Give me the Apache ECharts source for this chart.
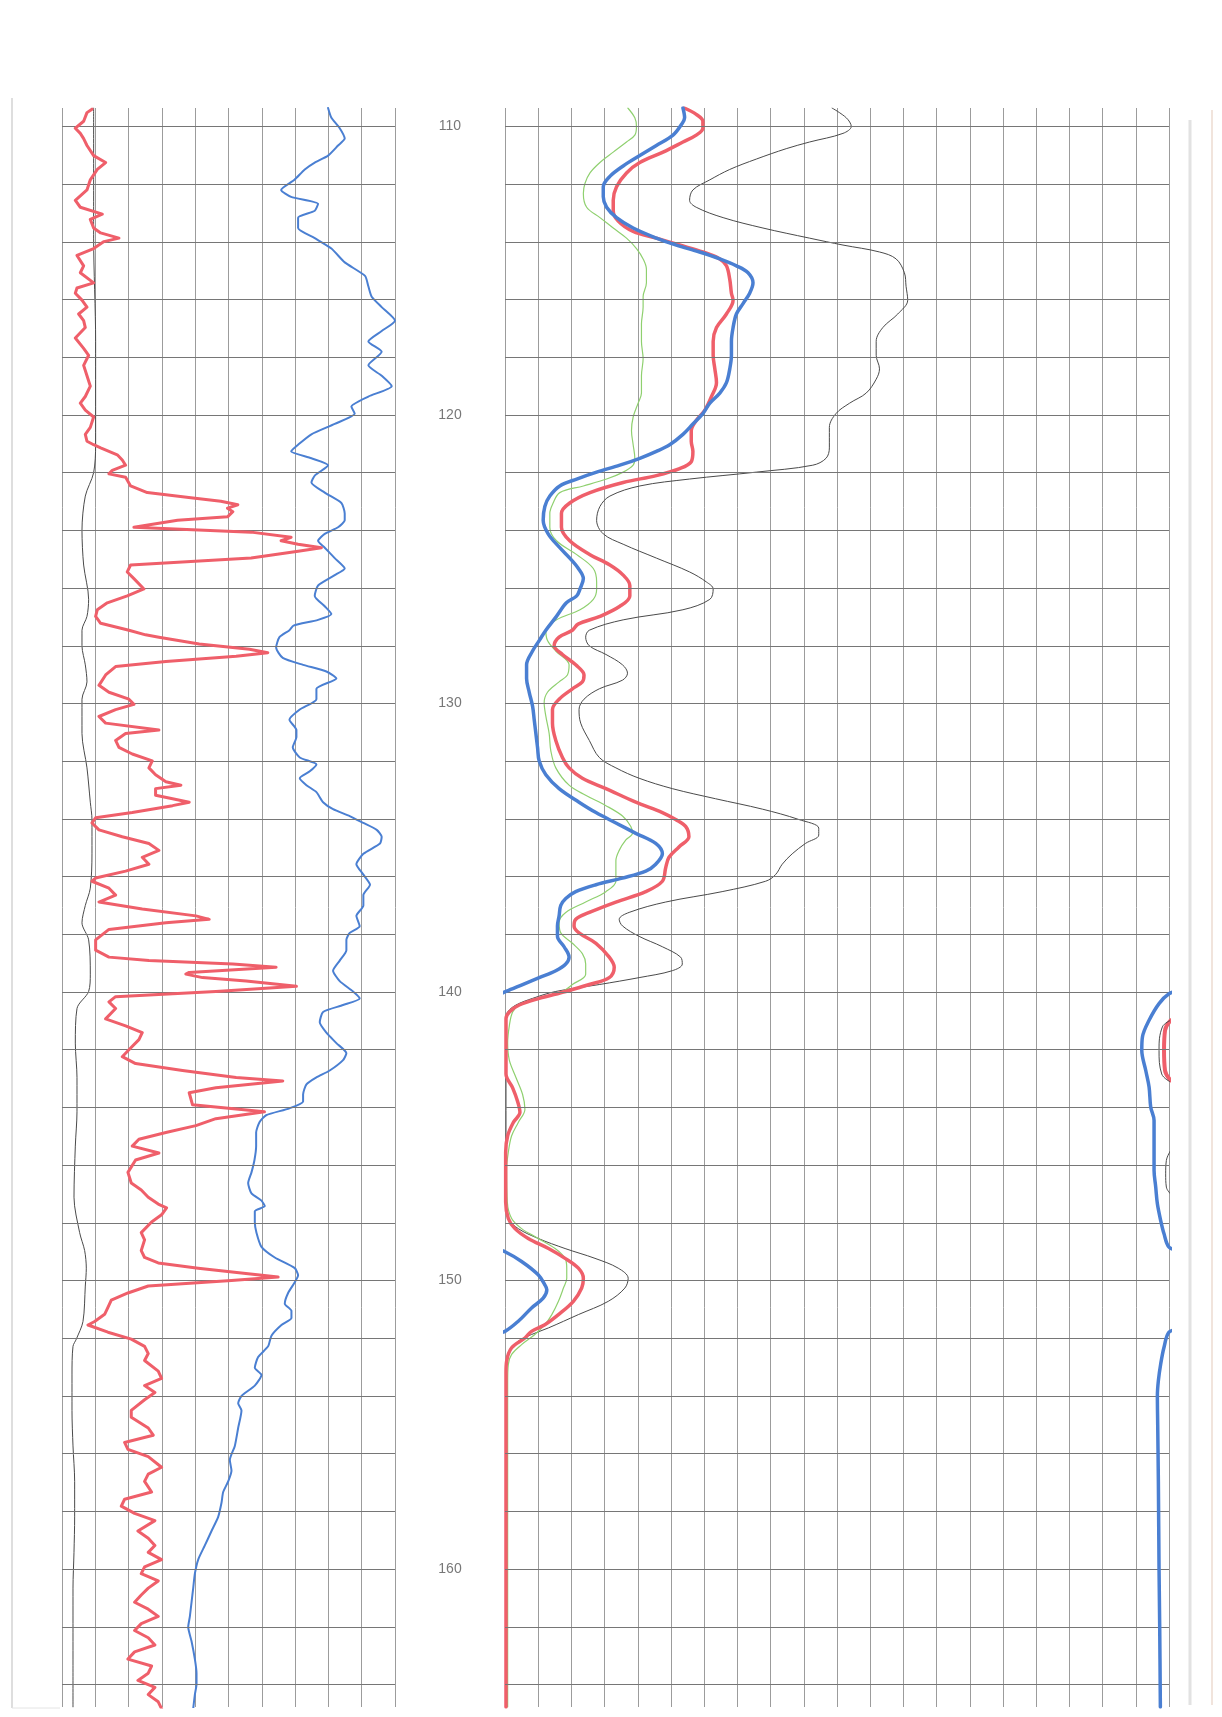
<!DOCTYPE html>
<html><head><meta charset="utf-8">
<script src="https://cdn.jsdelivr.net/npm/echarts@6/dist/echarts.min.js"></script>
<style>html,body{margin:0;padding:0;background:#fff}#c{width:1222px;height:1717px}</style>
</head><body><div id="c"></div>
<script>
const depthMin = 109.36, depthMax = 164.78;
const depthLabels = [110,120,130,140,150,160];
const gridDepths = [110,112,114,116,118,120,122,124,126,128,130,132,134,136,138,140,142,144,146,148,150,152,154,156,158,160,162,164];

// [depth, value] pairs, left track (0-10 divisions)
const leftBlack = [[109.36,0.95],[113.87,0.95],[117.45,1.01],[121.03,1.01],[122.00,0.95],[122.81,0.70],[124.00,0.60],[125.20,0.65],[126.39,0.80],[126.98,0.75],[127.46,0.60],[128.00,0.60],[128.66,0.70],[129.25,0.75],[129.85,0.60],[131.04,0.60],[132.23,0.75],[133.42,0.85],[134.02,0.90],[135.21,0.90],[136.40,0.85],[137.00,0.70],[137.60,0.60],[138.19,0.80],[139.38,0.85],[139.98,0.80],[140.57,0.45],[141.77,0.40],[142.96,0.45],[144.15,0.45],[145.34,0.40],[147.11,0.36],[148.34,0.53],[148.96,0.68],[149.57,0.73],[150.19,0.70],[151.42,0.63],[152.03,0.43],[152.28,0.33],[153.27,0.30],[154.50,0.30],[155.73,0.33],[156.96,0.38],[158.19,0.38],[159.42,0.36],[160.66,0.33],[161.89,0.33],[163.12,0.33],[164.78,0.33]];

const leftRed = [[109.40,0.90],[109.52,0.75],[109.82,0.65],[110.06,0.40],[110.24,0.55],[110.42,0.65],[110.66,0.75],[111.01,0.95],[111.25,1.31],[111.49,1.06],[111.85,0.85],[112.20,0.75],[112.56,0.40],[112.80,0.55],[113.04,1.21],[113.22,0.85],[113.52,0.95],[113.69,1.16],[113.87,1.71],[113.99,1.26],[114.23,0.95],[114.47,0.45],[114.83,0.65],[115.07,0.55],[115.42,0.95],[115.60,0.45],[115.78,0.40],[116.02,0.60],[116.26,0.75],[116.50,0.50],[116.73,0.65],[116.97,0.70],[117.33,0.40],[117.69,0.65],[117.93,0.80],[118.28,0.65],[118.64,0.75],[119.00,0.85],[119.36,0.70],[119.59,0.55],[119.83,0.70],[120.07,0.95],[120.43,0.85],[120.67,0.70],[120.91,0.75],[121.03,0.95],[121.14,1.16],[121.38,1.66],[121.56,1.81],[121.74,1.91],[121.92,1.51],[122.04,1.41],[122.16,1.91],[122.46,2.06],[122.69,2.56],[122.87,3.87],[122.99,4.77],[123.11,5.28],[123.23,4.97],[123.35,5.13],[123.53,4.97],[123.65,3.47],[123.89,2.16],[123.95,2.11],[124.06,5.68],[124.24,6.88],[124.36,6.58],[124.48,7.09],[124.60,7.79],[124.72,7.09],[124.96,5.68],[125.20,2.06],[125.44,1.96],[125.67,2.16],[126.03,2.46],[126.27,1.96],[126.51,1.36],[126.75,1.06],[126.98,1.01],[127.22,1.16],[127.46,2.01],[127.62,2.51],[127.70,2.91],[127.94,4.12],[128.12,5.63],[128.24,6.18],[128.36,5.23],[128.54,3.12],[128.72,1.61],[129.01,1.31],[129.37,1.11],[129.61,1.41],[129.85,2.01],[130.03,2.16],[130.21,1.61],[130.45,1.11],[130.68,1.31],[130.92,2.91],[131.04,1.91],[131.28,1.61],[131.52,1.71],[131.75,2.11],[131.99,2.71],[132.23,2.61],[132.47,2.81],[132.71,3.12],[132.83,3.57],[132.95,2.81],[133.18,2.81],[133.30,3.32],[133.42,3.82],[133.54,3.32],[133.78,2.11],[133.96,1.01],[134.14,0.90],[134.38,1.11],[134.62,1.81],[134.85,2.61],[135.09,2.91],[135.33,2.41],[135.57,2.61],[135.81,1.91],[136.05,1.01],[136.16,0.90],[136.40,1.41],[136.64,1.61],[136.88,1.11],[137.12,2.41],[137.36,4.02],[137.48,4.42],[137.60,3.12],[137.83,1.41],[138.19,1.01],[138.55,1.01],[138.79,1.41],[138.91,2.61],[139.03,5.13],[139.14,6.43],[139.32,3.82],[139.38,3.72],[139.50,4.22],[139.62,5.53],[139.80,7.04],[139.98,4.62],[140.16,1.61],[140.34,1.41],[140.57,1.61],[140.93,1.31],[141.17,1.91],[141.41,2.41],[141.65,2.31],[142.00,2.01],[142.24,1.81],[142.48,2.21],[142.72,3.62],[142.96,5.23],[143.08,6.63],[143.32,4.62],[143.49,3.82],[143.91,3.92],[144.15,6.08],[144.39,4.62],[144.63,4.02],[144.87,3.12],[145.10,2.31],[145.34,2.11],[145.58,2.91],[145.82,2.21],[146.25,1.98],[146.62,2.08],[146.86,2.38],[147.11,2.59],[147.35,2.89],[147.48,3.14],[147.72,2.99],[147.97,2.69],[148.34,2.38],[148.59,2.48],[148.96,2.38],[149.20,2.48],[149.39,2.89],[149.57,4.09],[149.76,5.59],[149.88,6.49],[150.00,5.09],[150.19,2.59],[150.43,1.98],[150.68,1.48],[150.93,1.38],[151.17,1.28],[151.42,0.98],[151.54,0.78],[151.79,1.38],[152.03,2.08],[152.28,2.48],[152.53,2.59],[152.77,2.48],[153.14,2.89],[153.39,2.99],[153.64,2.48],[153.88,2.79],[154.13,2.48],[154.50,2.08],[154.74,2.08],[155.11,2.59],[155.36,2.74],[155.61,1.88],[155.85,1.98],[156.10,2.59],[156.47,2.99],[156.71,2.59],[156.96,2.48],[157.33,2.69],[157.58,1.88],[157.82,1.78],[158.07,2.18],[158.32,2.79],[158.68,2.28],[158.93,2.59],[159.18,2.79],[159.42,2.59],[159.67,2.99],[159.92,2.48],[160.16,2.38],[160.41,2.89],[160.66,2.59],[160.90,2.38],[161.15,2.18],[161.39,2.59],[161.64,2.89],[161.89,2.38],[162.13,2.18],[162.38,2.59],[162.63,2.79],[162.87,2.18],[163.12,1.98],[163.36,2.69],[163.61,2.59],[163.86,2.28],[164.10,2.79],[164.35,2.59],[164.60,2.89],[164.84,2.99]];

const leftBlue = [[109.36,7.99],[109.70,8.09],[110.06,8.34],[110.42,8.49],[110.66,8.29],[111.01,7.99],[111.25,7.59],[111.49,7.29],[111.85,6.98],[112.20,6.58],[112.44,6.88],[112.68,7.69],[112.92,7.59],[113.16,7.09],[113.52,7.09],[113.87,7.59],[114.23,8.09],[114.71,8.49],[115.18,9.10],[115.54,9.20],[115.90,9.30],[116.26,9.60],[116.73,10.0],[117.09,9.60],[117.45,9.20],[117.81,9.60],[118.28,9.20],[118.64,9.60],[119.00,9.90],[119.36,9.20],[119.71,8.69],[119.95,8.79],[120.31,8.19],[120.67,7.49],[121.03,7.09],[121.26,6.88],[121.50,7.49],[121.74,7.99],[122.10,7.59],[122.34,7.49],[122.69,7.89],[123.05,8.39],[123.41,8.49],[123.65,8.49],[123.89,8.29],[124.12,7.89],[124.36,7.69],[124.60,7.89],[124.96,8.19],[125.32,8.49],[125.55,8.19],[125.91,7.69],[126.27,7.59],[126.63,7.89],[126.90,8.09],[127.10,7.69],[127.30,6.95],[127.46,6.83],[127.70,6.53],[128.06,6.43],[128.42,6.63],[128.66,7.24],[128.89,7.94],[129.13,8.24],[129.49,7.64],[129.85,7.64],[130.21,7.14],[130.56,6.83],[130.92,7.04],[131.16,7.04],[131.52,6.93],[131.87,7.14],[132.11,7.64],[132.35,7.44],[132.59,7.14],[132.83,7.34],[133.07,7.64],[133.42,7.84],[133.66,8.14],[133.90,8.64],[134.14,9.05],[134.38,9.45],[134.62,9.60],[134.85,9.55],[135.21,9.05],[135.57,8.84],[135.93,9.05],[136.28,9.25],[136.64,9.05],[137.00,9.05],[137.36,8.84],[137.72,8.94],[137.95,8.64],[138.19,8.54],[138.55,8.54],[138.91,8.34],[139.26,8.14],[139.62,8.34],[139.98,8.74],[140.22,8.94],[140.45,8.44],[140.69,7.84],[141.05,7.74],[141.41,7.94],[141.77,8.24],[142.12,8.54],[142.36,8.44],[142.72,8.04],[142.96,7.64],[143.20,7.34],[143.55,7.24],[143.79,7.24],[144.03,6.83],[144.27,6.13],[144.51,5.93],[144.87,5.83],[145.34,5.83],[145.82,5.78],[146.25,5.69],[146.62,5.59],[146.98,5.69],[147.23,5.99],[147.42,6.09],[147.60,5.79],[147.97,5.79],[148.34,5.84],[148.83,5.99],[149.20,6.39],[149.57,6.99],[149.82,7.09],[150.06,6.99],[150.43,6.79],[150.80,6.69],[151.05,6.89],[151.30,6.89],[151.54,6.59],[151.91,6.29],[152.28,6.19],[152.65,5.89],[153.02,5.79],[153.27,5.99],[153.64,5.79],[154.00,5.39],[154.25,5.29],[154.50,5.39],[155.11,5.29],[155.73,5.19],[156.22,5.04],[156.59,5.09],[156.96,4.99],[157.33,4.84],[157.70,4.79],[158.19,4.69],[158.68,4.49],[159.18,4.29],[159.67,4.09],[160.16,3.99],[160.66,3.94],[161.15,3.89],[161.64,3.84],[162.01,3.79],[162.50,3.89],[163.12,3.99],[163.61,4.04],[163.98,4.04],[164.35,3.99],[164.84,3.94]];

// right track (0-20 divisions)
const rightBlack = [[109.36,9.85],[109.70,10.28],[110.00,10.43],[110.24,10.18],[110.54,9.17],[110.77,8.47],[111.13,7.57],[111.49,6.77],[111.85,6.17],[112.20,5.66],[112.56,5.56],[112.80,5.76],[113.16,6.57],[113.52,7.77],[113.87,9.17],[114.11,10.18],[114.35,11.28],[114.59,11.78],[115.07,12.03],[115.54,12.08],[116.02,12.13],[116.50,11.83],[116.97,11.38],[117.45,11.18],[117.93,11.18],[118.40,11.28],[118.76,11.18],[119.24,10.88],[119.59,10.38],[119.95,9.97],[120.43,9.77],[120.79,9.77],[121.14,9.77],[121.50,9.67],[121.74,9.27],[121.98,7.57],[122.22,5.56],[122.46,4.06],[122.81,3.16],[123.17,2.86],[123.65,2.76],[124.12,2.96],[124.48,3.56],[124.96,4.56],[125.44,5.56],[125.79,6.07],[126.03,6.27],[126.39,6.17],[126.75,5.36],[127.10,3.56],[127.46,2.54],[127.70,2.43],[128.00,2.54],[128.30,3.04],[128.66,3.54],[128.95,3.69],[129.19,3.54],[129.49,2.84],[129.85,2.38],[130.21,2.23],[130.68,2.28],[131.28,2.54],[131.87,2.84],[132.23,3.34],[132.59,4.04],[132.95,5.04],[133.30,6.34],[133.66,7.75],[134.02,8.85],[134.32,9.45],[134.56,9.45],[134.85,9.05],[135.21,8.65],[135.57,8.35],[135.93,8.15],[136.16,7.85],[136.52,6.54],[136.88,4.84],[137.24,3.74],[137.48,3.44],[137.71,3.54],[138.07,4.04],[138.43,4.74],[138.79,5.29],[139.03,5.34],[139.26,5.04],[139.50,4.04],[139.74,2.84],[139.98,1.53],[140.22,0.83],[140.45,0.33],[140.69,0.08],[140.93,0.03],[147.28,0.03],[147.85,0.10],[148.20,0.40],[148.54,1.00],[148.89,1.81],[149.23,2.71],[149.57,3.41],[149.92,3.71],[150.26,3.61],[150.72,3.11],[151.18,2.21],[151.64,1.31],[151.87,0.80],[152.10,0.40],[152.45,0.15],[152.79,0.05],[153.02,0.03],[164.78,0.03]];

const rightGreen = [[109.36,3.70],[109.70,3.91],[110.00,3.96],[110.30,3.91],[110.54,3.66],[110.89,3.26],[111.25,2.86],[111.61,2.56],[111.97,2.41],[112.32,2.36],[112.80,2.46],[113.16,2.86],[113.52,3.26],[113.87,3.66],[114.23,3.96],[114.59,4.16],[114.95,4.26],[115.42,4.26],[115.90,4.16],[116.26,4.16],[116.85,4.11],[117.45,4.11],[118.05,4.16],[118.64,4.11],[119.24,4.11],[119.59,4.01],[120.07,3.86],[120.55,3.81],[121.03,3.86],[121.50,3.91],[121.74,3.86],[121.98,3.56],[122.22,3.06],[122.46,2.36],[122.69,1.65],[123.05,1.45],[123.41,1.35],[123.89,1.35],[124.36,1.55],[124.84,2.16],[125.32,2.66],[125.79,2.76],[126.03,2.76],[126.39,2.66],[126.75,2.26],[127.10,1.55],[127.46,1.23],[127.82,1.28],[128.18,1.53],[128.66,1.93],[129.01,1.88],[129.25,1.63],[129.61,1.28],[129.97,1.18],[130.44,1.23],[131.04,1.33],[131.64,1.38],[132.23,1.53],[132.83,1.93],[133.18,2.43],[133.54,3.04],[133.90,3.54],[134.26,3.79],[134.50,3.84],[134.73,3.64],[135.09,3.44],[135.45,3.34],[135.81,3.34],[136.16,3.34],[136.52,3.04],[136.88,2.43],[137.24,1.83],[137.59,1.63],[137.95,1.68],[138.31,2.03],[138.67,2.33],[139.03,2.43],[139.38,2.43],[139.74,2.03],[139.98,1.73],[140.22,1.03],[140.45,0.43],[140.69,0.23],[141.17,0.13],[141.77,0.08],[142.36,0.13],[142.96,0.33],[143.55,0.53],[144.06,0.60],[144.52,0.40],[144.98,0.20],[145.55,0.10],[146.13,0.05],[147.28,0.07],[147.85,0.20],[148.20,0.50],[148.54,1.00],[148.89,1.51],[149.23,1.81],[149.57,1.86],[149.92,1.86],[150.26,1.76],[150.72,1.61],[151.18,1.41],[151.53,1.20],[151.87,0.90],[152.22,0.50],[152.56,0.20],[152.91,0.10],[153.50,0.08],[164.78,0.08]];

const rightRed = [[109.36,5.40],[109.58,5.76],[109.82,5.96],[110.06,5.96],[110.30,5.76],[110.54,5.36],[110.89,4.76],[111.25,4.06],[111.61,3.66],[112.09,3.36],[112.56,3.26],[112.92,3.26],[113.28,3.41],[113.64,3.86],[113.87,4.56],[114.11,5.26],[114.35,5.96],[114.59,6.47],[114.83,6.67],[115.30,6.77],[115.78,6.82],[116.02,6.87],[116.50,6.67],[116.97,6.37],[117.45,6.27],[117.93,6.27],[118.40,6.32],[118.88,6.37],[119.36,6.22],[119.83,6.02],[120.19,5.76],[120.55,5.61],[120.91,5.61],[121.26,5.66],[121.62,5.61],[121.86,5.26],[122.10,4.56],[122.34,3.56],[122.69,2.56],[123.05,1.95],[123.41,1.70],[123.89,1.70],[124.36,1.95],[124.84,2.56],[125.20,3.16],[125.55,3.56],[125.91,3.76],[126.27,3.76],[126.63,3.46],[126.98,2.86],[127.25,2.20],[127.46,2.03],[127.70,1.63],[128.00,1.48],[128.30,1.73],[128.66,2.13],[129.01,2.38],[129.25,2.33],[129.49,2.03],[129.85,1.63],[130.21,1.43],[130.68,1.43],[131.28,1.53],[131.87,1.73],[132.23,1.93],[132.59,2.33],[132.95,3.04],[133.42,3.94],[133.78,4.74],[134.02,5.14],[134.26,5.44],[134.62,5.54],[134.97,5.24],[135.33,4.94],[135.69,4.84],[136.16,4.74],[136.52,4.24],[136.88,3.34],[137.24,2.54],[137.48,2.13],[137.71,2.08],[137.95,2.23],[138.31,2.74],[138.79,3.14],[139.14,3.29],[139.50,3.14],[139.74,2.54],[139.98,1.83],[140.22,1.03],[140.45,0.43],[140.69,0.13],[140.93,0.03],[142.84,0.03],[143.32,0.23],[143.79,0.38],[144.17,0.45],[144.52,0.25],[144.98,0.08],[145.55,0.02],[147.28,0.02],[147.85,0.10],[148.20,0.30],[148.54,0.70],[148.89,1.31],[149.23,1.81],[149.57,2.21],[149.92,2.36],[150.26,2.31],[150.72,2.06],[151.18,1.61],[151.53,1.20],[151.76,0.80],[151.99,0.60],[152.33,0.20],[152.79,0.05],[153.20,0.03],[164.78,0.03]];

const rightBlue = [[109.36,5.36],[109.70,5.41],[109.94,5.31],[110.30,5.06],[110.66,4.56],[111.01,4.06],[111.37,3.56],[111.73,3.16],[112.09,2.96],[112.44,2.96],[112.80,3.06],[113.16,3.36],[113.52,3.86],[113.87,4.56],[114.11,5.16],[114.35,5.86],[114.59,6.47],[114.83,6.97],[115.07,7.32],[115.42,7.47],[115.78,7.37],[116.14,7.17],[116.50,6.97],[116.97,6.87],[117.45,6.82],[117.93,6.82],[118.40,6.77],[118.88,6.67],[119.24,6.47],[119.59,6.17],[119.95,5.96],[120.31,5.66],[120.67,5.36],[121.03,4.96],[121.26,4.56],[121.50,4.06],[121.74,3.46],[121.98,2.76],[122.22,2.16],[122.46,1.65],[122.81,1.35],[123.17,1.20],[123.65,1.15],[124.12,1.30],[124.60,1.65],[124.96,1.95],[125.32,2.21],[125.67,2.36],[126.03,2.26],[126.27,2.16],[126.51,1.85],[126.98,1.55],[127.46,1.23],[127.82,1.03],[128.18,0.83],[128.66,0.65],[129.13,0.65],[129.61,0.73],[130.09,0.83],[130.56,0.88],[131.04,0.93],[131.52,0.98],[131.99,1.03],[132.47,1.23],[132.95,1.63],[133.42,2.23],[133.78,2.74],[134.14,3.34],[134.50,3.94],[134.85,4.54],[135.21,4.74],[135.57,4.54],[135.81,4.24],[136.05,3.54],[136.28,2.74],[136.52,2.13],[136.76,1.83],[137.00,1.68],[137.36,1.63],[137.71,1.58],[138.07,1.58],[138.43,1.78],[138.79,1.93],[139.03,1.83],[139.26,1.53],[139.50,1.03],[139.74,0.53],[139.98,0.03],[140.15,-0.30]];
const rightBlueLow = [[148.90,-0.30],[149.00,0.00],[149.34,0.50],[149.80,1.00],[150.15,1.20],[150.32,1.26],[150.61,1.15],[150.95,0.80],[151.41,0.40],[151.76,0.00],[151.85,-0.30]];
const rightBlueWrapA = [[139.95,20.30],[140.06,20.00],[140.40,19.70],[140.98,19.40],[141.56,19.20],[142.02,19.18],[142.72,19.30],[143.29,19.40],[143.99,19.45],[144.45,19.55],[145.03,19.55],[145.61,19.55],[146.18,19.55],[146.76,19.60],[147.34,19.65],[147.92,19.75],[148.38,19.85],[148.84,20.00],[148.95,20.30]];
const rightBlueWrapB = [[151.70,20.30],[151.79,20.00],[152.31,19.85],[152.89,19.75],[153.47,19.68],[153.99,19.65],[155.00,19.66],[157.00,19.68],[160.00,19.70],[162.00,19.72],[164.78,19.74]];
const rightRedWrap = [[140.98,20.05],[141.33,19.88],[142.02,19.85],[142.72,19.88],[143.06,20.05]];
const rightBlackWrapA = [[140.98,20.05],[141.21,19.80],[142.02,19.70],[142.84,19.78],[143.12,20.05]];
const rightBlackWrapB = [[145.49,20.05],[145.84,19.92],[146.30,19.90],[146.76,19.92],[147.00,20.05]];

const chart = echarts.init(document.getElementById('c'), null, {renderer: 'canvas'});
const toXY = arr => arr.map(p => [p[1], p[0]]);
function curve(arr, g, color, width, smooth, z) {
  return {type: 'line', xAxisIndex: g, yAxisIndex: g, data: toXY(arr), showSymbol: false, symbol: 'none',
    smooth: smooth, lineStyle: {color: color, width: width, cap: 'round', join: 'round'}, z: z, silent: true, clip: true};
}
function hLines(g) {
  return {type: 'line', xAxisIndex: g, yAxisIndex: g, data: [], z: 1, silent: true,
    markLine: {silent: true, symbol: ['none', 'none'], label: {show: false}, animation: false,
      lineStyle: {color: '#767676', width: 1.2, type: 'solid'}, data: gridDepths.map(d => ({yAxis: d}))}};
}
const xStyle = {type: 'value', axisLine: {show: false}, axisTick: {show: false}, axisLabel: {show: false},
  splitLine: {show: true, lineStyle: {color: '#9c9c9c', width: 1}}};
const yStyle = {type: 'value', inverse: true, min: depthMin, max: depthMax, show: false, splitLine: {show: false}};

const RED = '#ef5f6a', BLUE = '#4a7fd2', GREEN = '#8fd06f', BLACK = '#4a4a4a';

chart.setOption({
  animation: false,
  backgroundColor: '#ffffff',
  grid: [
    {left: 62, top: 108, width: 333, height: 1599},
    {left: 505, top: 108, width: 664, height: 1599},
    {left: 395, top: 108, width: 110, height: 1599}
  ],
  xAxis: [
    Object.assign({gridIndex: 0, min: 0, max: 10, interval: 1}, xStyle),
    Object.assign({gridIndex: 1, min: 0, max: 20, interval: 1}, xStyle),
    {gridIndex: 2, type: 'value', min: 0, max: 1, show: false}
  ],
  yAxis: [
    Object.assign({gridIndex: 0}, yStyle),
    Object.assign({gridIndex: 1}, yStyle),
    Object.assign({gridIndex: 2}, yStyle)
  ],
  graphic: [
    {type: 'line', shape: {x1: 12, y1: 98, x2: 12, y2: 1708}, style: {stroke: '#dedede', lineWidth: 2}, silent: true},
    {type: 'line', shape: {x1: 12, y1: 1708, x2: 60, y2: 1708}, style: {stroke: '#e4e4e4', lineWidth: 1}, silent: true},
    {type: 'line', shape: {x1: 1190, y1: 120, x2: 1190, y2: 1705}, style: {stroke: '#e2e2e2', lineWidth: 3}, silent: true},
    {type: 'line', shape: {x1: 1212, y1: 110, x2: 1212, y2: 1705}, style: {stroke: '#f1e4dc', lineWidth: 2}, silent: true}
  ],
  series: [
    hLines(0), hLines(1),
    curve(leftBlack, 0, BLACK, 1, 0.3, 3),
    curve(leftBlue, 0, BLUE, 2, 0.2, 4),
    curve(leftRed, 0, RED, 3, false, 5),
    curve(rightBlack, 1, BLACK, 1, 0.35, 3),
    curve(rightGreen, 1, GREEN, 1.2, 0.35, 3),
    curve(rightRed, 1, RED, 3.5, 0.35, 4),
    curve(rightBlue, 1, BLUE, 3.5, 0.35, 5),
    curve(rightBlueLow, 1, BLUE, 3.5, 0.35, 5),
    curve(rightBlueWrapA, 1, BLUE, 3.5, 0.35, 5),
    curve(rightBlueWrapB, 1, BLUE, 3.5, 0.35, 5),
    curve(rightRedWrap, 1, RED, 4, 0.4, 4),
    curve(rightBlackWrapA, 1, BLACK, 1, 0.4, 4),
    curve(rightBlackWrapB, 1, BLACK, 1, 0.4, 4),
    {type: 'scatter', xAxisIndex: 2, yAxisIndex: 2, data: depthLabels.map(d => [0.5, d]),
      symbolSize: 1, itemStyle: {color: 'rgba(0,0,0,0)'}, silent: true,
      label: {show: true, position: 'inside', formatter: p => String(p.value[1]),
        color: '#555555', fontSize: 14, fontFamily: 'Liberation Sans'}}
  ]
});
</script>
</body></html>
